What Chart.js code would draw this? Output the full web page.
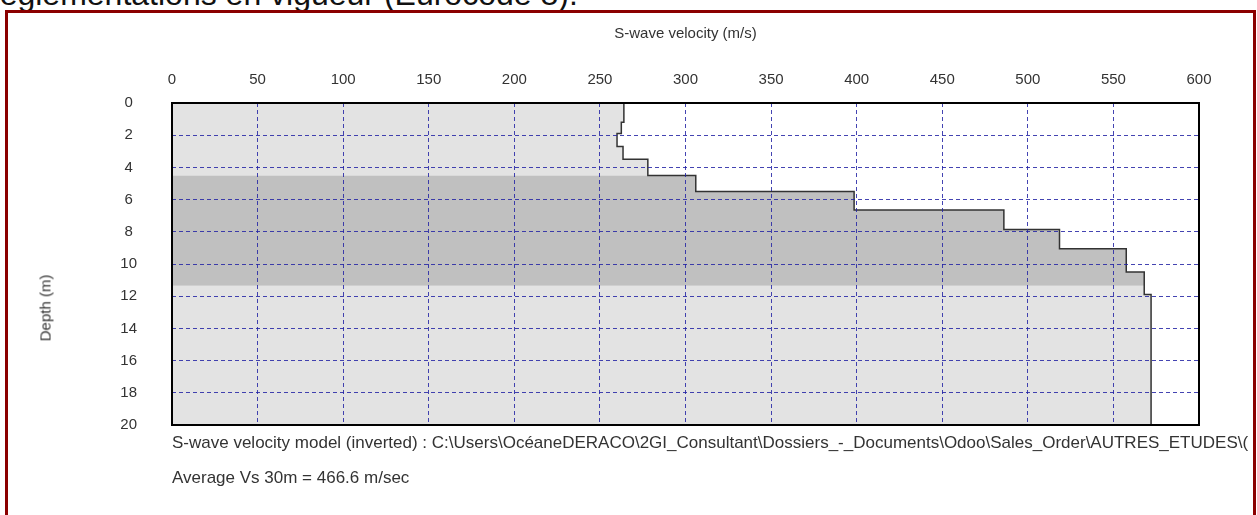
<!DOCTYPE html>
<html>
<head>
<meta charset="utf-8">
<script src="https://cdn.jsdelivr.net/npm/chart.js@4/dist/chart.umd.min.js"></script>
<style>
  body { margin: 0; background: #fff; width: 1257px; height: 515px; overflow: hidden; position: relative; font-family: "Liberation Sans", Arial, sans-serif; }
  #heading { position: absolute; left: -11px; top: -22px; font-size: 32px; line-height: 32px; white-space: nowrap; color: #111; }
  #frame { position: absolute; left: 5px; top: 10px; width: 1251px; height: 530px; box-sizing: border-box; border: 3px solid #8b0000; }
  #wrap { position: absolute; left: 0; top: 0; width: 1257px; height: 515px; }
  .note { position: absolute; left: 172px; width: 1078px; overflow: hidden; white-space: nowrap; font-size: 17px; line-height: 20px; color: #333; }
  #depthTitle { position: absolute; left: 45px; top: 308px; transform: translate(-50%, -50%) rotate(-90deg); font-size: 15px; color: #333; white-space: nowrap; }
</style>
</head>
<body>
<div id="heading">réglementations en vigueur (Eurocode 8).</div>
<div id="frame"></div>
<div id="wrap"><canvas id="vsChart" width="1257" height="515"></canvas></div>
<div id="depthTitle">Depth (m)</div>
<div class="note" style="top:433px">S-wave velocity model (inverted) : C:\Users\OcéaneDERACO\2GI_Consultant\Dossiers_-_Documents\Odoo\Sales_Order\AUTRES_ETUDES\(</div>
<div class="note" style="top:468px">Average Vs 30m = 466.6 m/sec</div>
<script>
// S-wave velocity (m/s) of each layer, top to bottom
const layerVs = [264, 262.5, 260, 263.5, 278, 306, 398.5, 486, 518.5, 557.5, 568, 572];
// depth (m) of the bottom of each layer
const layerBottom = [1.2, 1.9, 2.7, 3.5, 4.5, 5.5, 6.65, 7.85, 9.05, 10.5, 11.9, 20];
// darker shaded depth band (m)
const bandTop = 4.5;
const bandBottom = 11.35;

const velocityTicks = [0, 50, 100, 150, 200, 250, 300, 350, 400, 450, 500, 550, 600];
const depthTicks = [0, 2, 4, 6, 8, 10, 12, 14, 16, 18, 20];

// step profile: two points per layer (top and bottom)
const profile = [];
const band = [];
layerVs.forEach((vs, i) => {
    const top = i === 0 ? 0 : layerBottom[i - 1];
    const bottom = layerBottom[i];
    profile.push({ x: vs, y: top }, { x: vs, y: bottom });
    const t = Math.max(top, bandTop);
    const b = Math.min(bottom, bandBottom);
    if (b > t) band.push({ x: vs, y: t }, { x: vs, y: b });
});

const gridColor = 'rgba(35, 35, 165, 0.85)';
const tickFont = { family: '"Liberation Sans", Arial, sans-serif', size: 15 };

// frame around the plot area
const framePlugin = {
    id: 'frame',
    afterDraw(chart) {
        const { ctx, chartArea: a } = chart;
        ctx.save();
        ctx.strokeStyle = '#000';
        ctx.lineWidth = 2;
        ctx.strokeRect(a.left, a.top, a.right - a.left, a.bottom - a.top);
        ctx.restore();
    }
};

new Chart(document.getElementById('vsChart'), {
    type: 'line',
    data: {
        datasets: [
            {
                label: 'profile',
                data: profile,
                borderColor: '#333',
                borderWidth: 1.5,
                pointRadius: 0,
                fill: false,
                order: 0
            },
            {
                label: 'band',
                data: band,
                borderWidth: 0,
                pointRadius: 0,
                backgroundColor: '#c0c0c0',
                fill: 'origin',
                order: 1
            },
            {
                label: 'fill',
                data: profile,
                borderWidth: 0,
                pointRadius: 0,
                backgroundColor: '#e3e3e3',
                fill: 'origin',
                order: 2
            }
        ]
    },
    options: {
        indexAxis: 'y',
        responsive: false,
        animation: false,
        devicePixelRatio: 1,
        layout: { padding: { left: 0, top: 0, right: 58, bottom: 90 } },
        plugins: {
            legend: { display: false },
            tooltip: { enabled: false }
        },
        scales: {
            x: {
                type: 'linear',
                position: 'top',
                min: 0,
                max: 600,
                afterBuildTicks: (s) => { s.ticks = velocityTicks.map(v => ({ value: v })); },
                afterFit: (s) => { s.height = 103; },
                title: {
                    display: true,
                    text: 'S-wave velocity (m/s)',
                    color: '#333',
                    font: tickFont,
                    padding: { top: 25, bottom: 0 }
                },
                ticks: { color: '#333', font: tickFont, padding: 14, maxRotation: 0 },
                grid: { color: gridColor, lineWidth: 1, drawTicks: false, z: 1 },
                border: { display: false, dash: [4, 3] }
            },
            y: {
                type: 'linear',
                position: 'left',
                reverse: true,
                min: 0,
                max: 20,
                afterBuildTicks: (s) => { s.ticks = depthTicks.map(v => ({ value: v })); },
                afterFit: (s) => { s.width = 172; },
                title: { display: false },
                ticks: { color: '#333', font: tickFont, padding: 35, crossAlign: 'center' },
                grid: { color: gridColor, lineWidth: 1, drawTicks: false, z: 1 },
                border: { display: false, dash: [4, 3] }
            }
        }
    },
    plugins: [framePlugin]
});
</script>
</body>
</html>
